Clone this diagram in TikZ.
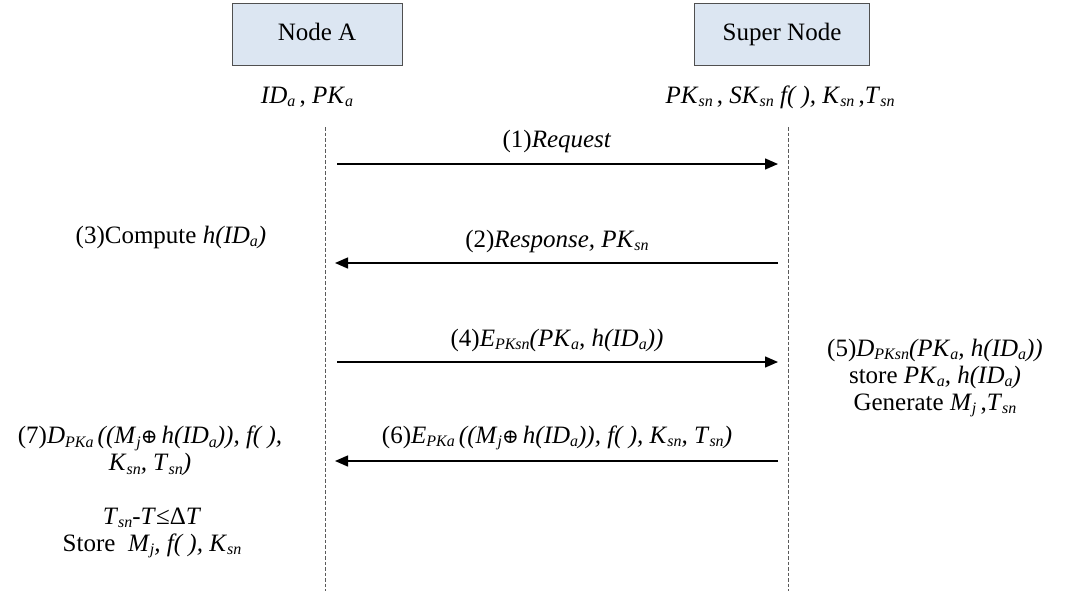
\documentclass[tikz,border=0pt]{standalone}
\usepackage{fontspec}
\setmainfont{Liberation Serif}
\newfontfamily\dvs{DejaVu Serif}
\usetikzlibrary{arrows.meta}
\newcommand\sbs[1]{\raisebox{-0.3ex}{\fontsize{16}{16}\selectfont\itshape #1}}
\newcommand\opl{{\dvs\fontsize{20}{20}\selectfont ⊕}}
\definecolor{boxfill}{RGB}{220,230,242}
\definecolor{boxline}{RGB}{80,80,80}
\definecolor{lifecol}{RGB}{90,90,90}
\tikzset{
  txt/.style={font=\fontsize{25}{27}\selectfont, inner sep=0pt, align=center},
  actor/.style={draw=boxline, fill=boxfill, line width=0.9pt, minimum height=62pt, inner sep=0pt,
    text height=17pt, text depth=3pt, font=\fontsize{25}{27}\selectfont},
  life/.style={draw=lifecol, dashed, dash pattern=on 3.5pt off 2pt, line width=0.9pt},
  msg/.style={draw=black, line width=1.4pt, -{Triangle[length=13pt,width=11pt]}}
}
\begin{document}
\begin{tikzpicture}[x=1pt,y=-1pt]
\useasboundingbox (0,0) rectangle (1067,591);
% actors
\node[actor, minimum width=170pt] (A) at (317,34) {Node A};
\node[actor, minimum width=175pt] (S) at (782,34) {Super Node};
\node[txt] (avars) at (307,97) {\textit{ID}\sbs{a}\,, \textit{PK}\sbs{a}};
\node[txt] (svars) at (780,97) {\textit{PK}\sbs{sn}\,, \textit{SK}\sbs{sn} \textit{f( ),} \textit{K}\sbs{sn}\,,\textit{T}\sbs{sn}};
% lifelines
\coordinate (Atop) at (325,127);
\coordinate (Abot) at (325,591);
\coordinate (Stop) at (788,127);
\coordinate (Sbot) at (788,591);
\draw[life] (Atop) -- (Abot);
\draw[life] (Stop) -- (Sbot);
% message endpoints
\coordinate (A1) at (337,164); \coordinate (S1) at (778,164);
\coordinate (A2) at (335,263); \coordinate (S2) at (778,263);
\coordinate (A3) at (337,362); \coordinate (S3) at (778,362);
\coordinate (A4) at (335,461); \coordinate (S4) at (778,461);
\draw[msg] (A1) -- (S1);
\draw[msg] (S2) -- (A2);
\draw[msg] (A3) -- (S3);
\draw[msg] (S4) -- (A4);
% labels
\node[txt] (l1) at (557,141) {(1)\textit{Request}};
\node[txt] (l2) at (557,241) {(2)\textit{Response, PK}\sbs{sn}};
\node[txt] (l3) at (171,237) {(3)Compute \textit{h(ID}\sbs{a}\textit{)}};
\node[txt] (l4) at (557,340) {(4)\textit{E}\sbs{PKsn}\textit{(PK}\sbs{a}\textit{, h(ID}\sbs{a}\textit{))}};
\node[txt] (l5) at (935,378) {(5)\textit{D}\sbs{PKsn}\textit{(PK}\sbs{a}\textit{, h(ID}\sbs{a}\textit{))}\\
  store \textit{PK}\sbs{a}\textit{, h(ID}\sbs{a}\textit{)}\\
  Generate \textit{M}\sbs{j}\,,\textit{T}\sbs{sn}};
\node[txt] (l6) at (557,438) {(6)\textit{E}\sbs{PKa}\,\textit{((M}\sbs{j}\opl\,\textit{h(ID}\sbs{a}\textit{)), f( ),\ K}\sbs{sn}\textit{, T}\sbs{sn}\textit{)}};
\node[txt] (l7) at (150,451) {(7)\textit{D}\sbs{PKa}\,\textit{((M}\sbs{j}\opl\,\textit{h(ID}\sbs{a}\textit{)), f( ),}\\
  \textit{K}\sbs{sn}\textit{, T}\sbs{sn}\textit{)}};
\node[txt] (l8) at (152,533) {\textit{T}\sbs{sn}-\textit{T}≤Δ\textit{T}\\
  Store \ \textit{M}\sbs{j}\textit{, f( ), K}\sbs{sn}};
\end{tikzpicture}
\end{document}
